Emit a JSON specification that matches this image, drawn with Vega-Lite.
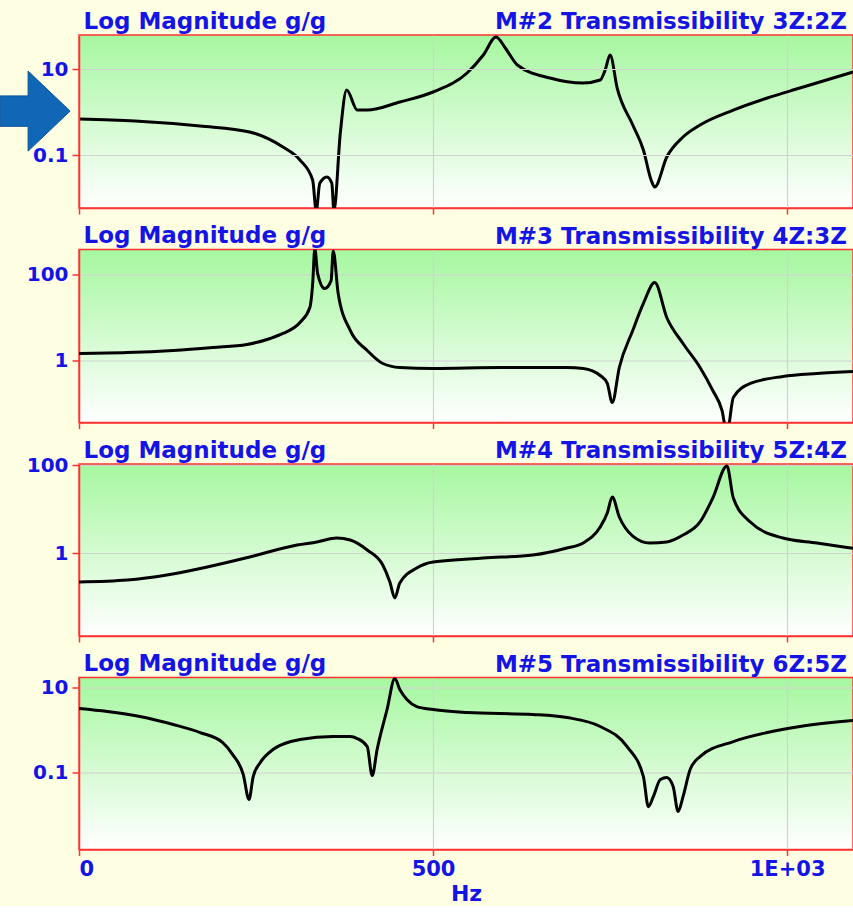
{
  "$schema": "https://vega.github.io/schema/vega-lite/v6.json",
  "background": "#fefee3",
  "padding": {"left": -3, "top": 9, "right": 0, "bottom": 0},
  "spacing": 7.5,
  "datasets": {
    "p1": [
      {"hz": 0, "g": 0.687}, {"hz": 79, "g": 0.618}, {"hz": 171, "g": 0.472}, {"hz": 241, "g": 0.343}, {"hz": 288, "g": 0.153}, {"hz": 312, "g": 0.0766}, {"hz": 330, "g": 0.026}, {"hz": 335, "g": 0.005}, {"hz": 340, "g": 0.022}, {"hz": 350, "g": 0.031}, {"hz": 357, "g": 0.022}, {"hz": 360, "g": 0.005}, {"hz": 369, "g": 0.325}, {"hz": 378, "g": 3.25}, {"hz": 393, "g": 1.11}, {"hz": 407, "g": 1.11}, {"hz": 453, "g": 1.71}, {"hz": 500, "g": 2.92}, {"hz": 548, "g": 8.07}, {"hz": 571, "g": 21.2}, {"hz": 589, "g": 55.5}, {"hz": 602, "g": 30.8}, {"hz": 619, "g": 12.4}, {"hz": 665, "g": 6.17}, {"hz": 712, "g": 4.72}, {"hz": 736, "g": 5.55}, {"hz": 743, "g": 9.5}, {"hz": 750, "g": 21.2}, {"hz": 760, "g": 3.61}, {"hz": 782, "g": 0.499}, {"hz": 797, "g": 0.131}, {"hz": 808, "g": 0.026}, {"hz": 813, "g": 0.018}, {"hz": 830, "g": 0.0897}, {"hz": 853, "g": 0.262}, {"hz": 877, "g": 0.499}, {"hz": 924, "g": 1.11}, {"hz": 972, "g": 2.12}, {"hz": 1018, "g": 3.61}, {"hz": 1093, "g": 8.5}
    ],
    "p2": [
      {"hz": 0, "g": 1.46}, {"hz": 68, "g": 1.53}, {"hz": 133, "g": 1.71}, {"hz": 189, "g": 2.0}, {"hz": 237, "g": 2.35}, {"hz": 270, "g": 3.25}, {"hz": 288, "g": 4.25}, {"hz": 312, "g": 7.65}, {"hz": 326, "g": 17.1}, {"hz": 330, "g": 61.7}, {"hz": 333, "g": 400}, {"hz": 337, "g": 105}, {"hz": 347, "g": 47}, {"hz": 356, "g": 72}, {"hz": 359, "g": 350}, {"hz": 366, "g": 36.2}, {"hz": 383, "g": 4.99}, {"hz": 407, "g": 1.71}, {"hz": 429, "g": 0.851}, {"hz": 453, "g": 0.687}, {"hz": 500, "g": 0.652}, {"hz": 595, "g": 0.687}, {"hz": 689, "g": 0.687}, {"hz": 712, "g": 0.652}, {"hz": 736, "g": 0.448}, {"hz": 746, "g": 0.292}, {"hz": 753, "g": 0.105}, {"hz": 763, "g": 0.687}, {"hz": 782, "g": 4.99}, {"hz": 797, "g": 21.2}, {"hz": 813, "g": 65.2}, {"hz": 830, "g": 10}, {"hz": 853, "g": 2.48}, {"hz": 877, "g": 0.687}, {"hz": 895, "g": 0.2}, {"hz": 908, "g": 0.0687}, {"hz": 915, "g": 0.02}, {"hz": 924, "g": 0.138}, {"hz": 948, "g": 0.292}, {"hz": 994, "g": 0.425}, {"hz": 1042, "g": 0.499}, {"hz": 1093, "g": 0.555}
    ],
    "p3": [
      {"hz": 0, "g": 0.219}, {"hz": 68, "g": 0.243}, {"hz": 124, "g": 0.316}, {"hz": 181, "g": 0.481}, {"hz": 241, "g": 0.811}, {"hz": 308, "g": 1.52}, {"hz": 336, "g": 1.78}, {"hz": 364, "g": 2.19}, {"hz": 383, "g": 1.97}, {"hz": 407, "g": 1.17}, {"hz": 429, "g": 0.534}, {"hz": 439, "g": 0.219}, {"hz": 446, "g": 0.0955}, {"hz": 453, "g": 0.208}, {"hz": 477, "g": 0.456}, {"hz": 500, "g": 0.624}, {"hz": 571, "g": 0.769}, {"hz": 641, "g": 0.901}, {"hz": 689, "g": 1.3}, {"hz": 712, "g": 1.69}, {"hz": 736, "g": 3.9}, {"hz": 746, "g": 8.11}, {"hz": 753, "g": 18.7}, {"hz": 763, "g": 6.58}, {"hz": 782, "g": 2.43}, {"hz": 806, "g": 1.69}, {"hz": 830, "g": 1.78}, {"hz": 853, "g": 2.56}, {"hz": 877, "g": 5.07}, {"hz": 895, "g": 17.8}, {"hz": 915, "g": 95}, {"hz": 924, "g": 17.8}, {"hz": 948, "g": 5.07}, {"hz": 994, "g": 2.19}, {"hz": 1042, "g": 1.69}, {"hz": 1093, "g": 1.28}
    ],
    "p4": [
      {"hz": 0, "g": 3.21}, {"hz": 40, "g": 2.73}, {"hz": 86, "g": 2.08}, {"hz": 133, "g": 1.35}, {"hz": 171, "g": 0.873}, {"hz": 203, "g": 0.508}, {"hz": 217, "g": 0.265}, {"hz": 232, "g": 0.0897}, {"hz": 240, "g": 0.0232}, {"hz": 246, "g": 0.0805}, {"hz": 256, "g": 0.172}, {"hz": 274, "g": 0.348}, {"hz": 299, "g": 0.536}, {"hz": 312, "g": 0.597}, {"hz": 359, "g": 0.703}, {"hz": 383, "g": 0.703}, {"hz": 393, "g": 0.631}, {"hz": 407, "g": 0.409}, {"hz": 414, "g": 0.085}, {"hz": 421, "g": 0.348}, {"hz": 435, "g": 3.04}, {"hz": 446, "g": 16.3}, {"hz": 453, "g": 8.97}, {"hz": 463, "g": 5.22}, {"hz": 477, "g": 3.57}, {"hz": 500, "g": 3.04}, {"hz": 548, "g": 2.58}, {"hz": 641, "g": 2.32}, {"hz": 689, "g": 1.97}, {"hz": 736, "g": 1.21}, {"hz": 774, "g": 0.409}, {"hz": 797, "g": 0.0805}, {"hz": 804, "g": 0.0158}, {"hz": 811, "g": 0.0272}, {"hz": 821, "g": 0.0685}, {"hz": 830, "g": 0.0762}, {"hz": 839, "g": 0.0468}, {"hz": 846, "g": 0.0121}, {"hz": 853, "g": 0.0272}, {"hz": 863, "g": 0.118}, {"hz": 877, "g": 0.238}, {"hz": 924, "g": 0.536}, {"hz": 972, "g": 0.873}, {"hz": 1018, "g": 1.21}, {"hz": 1093, "g": 1.67}
    ],
    "arrow": [{"hz": -62, "g": 1.05}]
  },
  "vconcat": [
    {
      "width": 774, "height": 173,
      "title": {"text": "M#2 Transmissibility 3Z:2Z", "anchor": "end", "frame": "group", "dx": -6, "baseline": "alphabetic", "offset": -42},
      "encoding": {
        "x": {"field": "hz", "type": "quantitative", "scale": {"domain": [0, 1093], "nice": false, "zero": false},
              "axis": {"values": [0, 500, 1000], "labels": false, "title": null, "tickSize": 6}},
        "y": {"field": "g", "type": "quantitative", "scale": {"type": "log", "domain": [0.00586, 61.8], "nice": false},
              "axis": {"values": [0.1, 10], "format": "~g", "title": "Log Magnitude g/g", "zindex": 1}}
      },
      "layer": [
        {"data": {"name": "p1"}, "mark": {"type": "line", "color": "#000000", "strokeWidth": 3, "clip": true, "interpolate": "monotone"}},
        {"data": {"name": "arrow"},
         "mark": {"type": "point", "shape": "M -0.875 -0.38 L -0.175 -0.38 L -0.175 -1 L 0.875 0 L -0.175 1 L -0.175 0.38 L -0.875 0.38 Z", "size": 6400, "filled": true, "color": "#1067b6", "stroke": "#0b5596", "strokeWidth": 1, "opacity": 1, "clip": false}}
      ]
    },
    {
      "width": 774, "height": 173,
      "data": {"name": "p2"},
      "title": {"text": "M#3 Transmissibility 4Z:3Z", "anchor": "end", "frame": "group", "dx": -6, "baseline": "alphabetic", "offset": -42},
      "mark": {"type": "line", "color": "#000000", "strokeWidth": 3, "clip": true, "interpolate": "monotone"},
      "encoding": {
        "x": {"field": "hz", "type": "quantitative", "scale": {"domain": [0, 1093], "nice": false, "zero": false},
              "axis": {"values": [0, 500, 1000], "labels": false, "title": null, "tickSize": 6}},
        "y": {"field": "g", "type": "quantitative", "scale": {"type": "log", "domain": [0.0361, 381], "nice": false},
              "axis": {"values": [1, 100], "format": "~g", "title": "Log Magnitude g/g"}}
      }
    },
    {
      "width": 774, "height": 172,
      "data": {"name": "p3"},
      "title": {"text": "M#4 Transmissibility 5Z:4Z", "anchor": "end", "frame": "group", "dx": -6, "baseline": "alphabetic", "offset": -42},
      "mark": {"type": "line", "color": "#000000", "strokeWidth": 3, "clip": true, "interpolate": "monotone"},
      "encoding": {
        "x": {"field": "hz", "type": "quantitative", "scale": {"domain": [0, 1093], "nice": false, "zero": false},
              "axis": {"values": [0, 500, 1000], "labels": false, "title": null, "tickSize": 6}},
        "y": {"field": "g", "type": "quantitative", "scale": {"type": "log", "domain": [0.013, 105.4], "nice": false},
              "axis": {"values": [1, 100], "format": "~g", "title": "Log Magnitude g/g"}}
      }
    },
    {
      "width": 774, "height": 172,
      "data": {"name": "p4"},
      "title": {"text": "M#5 Transmissibility 6Z:5Z", "anchor": "end", "frame": "group", "dx": -6, "baseline": "alphabetic", "offset": -42},
      "mark": {"type": "line", "color": "#000000", "strokeWidth": 3, "clip": true, "interpolate": "monotone"},
      "encoding": {
        "x": {"field": "hz", "type": "quantitative", "scale": {"domain": [0, 1093], "nice": false, "zero": false},
              "axis": {"values": [0, 500, 1000], "labelExpr": "datum.value >= 1000 ? '1E+03' : datum.label", "title": "Hz", "tickSize": 6, "labelPadding": 3, "labelFontSize": 21, "titlePadding": 4, "titleFontSize": 22}},
        "y": {"field": "g", "type": "quantitative", "scale": {"type": "log", "domain": [0.00155, 17.2], "nice": false},
              "axis": {"values": [0.1, 10], "format": "~g", "title": "Log Magnitude g/g"}}
      }
    }
  ],
  "config": {
    "view": {
      "fill": {"gradient": "linear", "x1": 0, "y1": 0, "x2": 0, "y2": 1,
               "stops": [{"offset": 0, "color": "#a6f7a0"}, {"offset": 1, "color": "#ffffff"}]},
      "stroke": "#ff3333", "strokeWidth": 1.5
    },
    "title": {"font": "DejaVu Sans", "fontSize": 23, "fontWeight": "bold", "color": "#1414e6"},
    "axis": {
      "labelFont": "DejaVu Sans", "labelFontSize": 20, "labelFontWeight": "bold", "labelColor": "#1414e6",
      "titleFont": "DejaVu Sans", "titleFontWeight": "bold", "titleColor": "#1414e6",
      "tickColor": "#ff3333", "tickWidth": 1.5, "domainColor": "#ff3333", "domainWidth": 1.5,
      "gridColor": "#d2d2d2", "gridWidth": 1.2, "grid": true
    },
    "axisY": {
      "tickSize": 7, "labelPadding": 4,
      "titleAngle": 0, "titleAlign": "left", "titleBaseline": "alphabetic", "titleX": 4, "titleY": -7, "titleFontSize": 23
    }
  }
}
